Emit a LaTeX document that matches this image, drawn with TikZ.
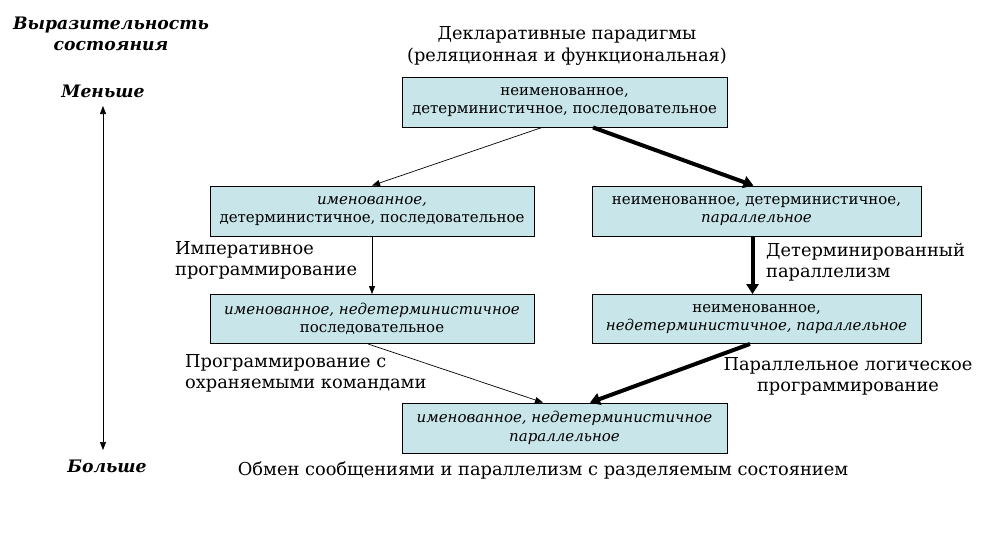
\documentclass[tikz,border=0pt]{standalone}
\usepackage{fontspec}
\setmainfont{DejaVu Serif}
\usetikzlibrary{arrows.meta}
\definecolor{boxfill}{RGB}{200,229,233}
\tikzset{
  pbox/.style={draw=black, line width=0.9pt, fill=boxfill, minimum height=50pt, inner sep=0pt, align=center, font=\fontsize{15}{18.5}\selectfont},
  thin/.style={line width=0.7pt, -{Triangle[length=8pt,width=6pt]}},
  thick/.style={line width=4pt, -{Triangle[length=10pt,width=12pt]}},
  lbl/.style={font=\fontsize{17.8}{21}\selectfont, inner sep=0pt},
  side/.style={font=\fontsize{17.2}{21}\selectfont\bfseries\itshape, inner sep=0pt, align=center}
}
\begin{document}
\begin{tikzpicture}[x=1pt,y=-1pt]
\useasboundingbox (0,0) rectangle (1000,550);
% boxes
\node[pbox, minimum width=325pt] (top) at (564.5,102) {неименованное,\\детерминистичное, последовательное};
\node[pbox, minimum width=324pt] (lm) at (372,211) {\itshape именованное,\\детерминистичное, последовательное};
\node[pbox, minimum width=329pt] (rm) at (756.5,211) {неименованное, детерминистичное,\\\itshape параллельное};
\node[pbox, minimum width=324pt, minimum height=49pt] (ll) at (372,319) {\itshape именованное, недетерминистичное\\последовательное};
\node[pbox, minimum width=329pt, minimum height=49pt] (rl) at (756.5,319) {неименованное,\\\itshape недетерминистичное, параллельное};
\node[pbox, minimum width=325pt] (bot) at (564.5,428) {\itshape именованное, недетерминистичное\\\itshape параллельное};
% connectors
\draw[thin] ([xshift=-22.5pt]top.south) -- (lm.north);
\draw[thick] ([xshift=28.5pt]top.south) -- ([xshift=-3pt]rm.north);
\draw[thin] (lm.south) -- (ll.north);
\draw[thick] ([xshift=-4pt]rm.south) -- ([xshift=-4pt]rl.north);
\draw[thin] ([xshift=-4pt]ll.south) -- ([xshift=-21.5pt]bot.north);
\draw[thick] ([xshift=-6.5pt]rl.south) -- ([xshift=25.5pt]bot.north);
% side scale
\node[side] (t1) at (111,34) {Выразительность\\состояния};
\node[side] (less) at (103,91) {Меньше};
\node[side] (more) at (107,466) {Больше};
\coordinate (va) at (103,106);
\coordinate (vb) at (103,450);
\draw[line width=0.7pt, {Triangle[length=8pt,width=6pt]}-{Triangle[length=8pt,width=6pt]}] (va) -- (vb);
% labels
\node[lbl, align=center, font=\fontsize{17.8}{22}\selectfont] (decl) at (567,46) {Декларативные парадигмы\\(реляционная и функциональная)};
\node[lbl, align=left, anchor=west] (imp) at (175,260.5) {Императивное\\программирование};
\node[lbl, align=left, anchor=west] (det) at (766,262) {Детерминированный\\параллелизм};
\node[lbl, align=left, anchor=west] (grd) at (185,373.5) {Программирование с\\охраняемыми командами};
\node[lbl, align=center] (plp) at (848,376) {Параллельное логическое\\программирование};
\node[lbl] (msg) at (543,470) {Обмен сообщениями и параллелизм с разделяемым состоянием};
\end{tikzpicture}
\end{document}
